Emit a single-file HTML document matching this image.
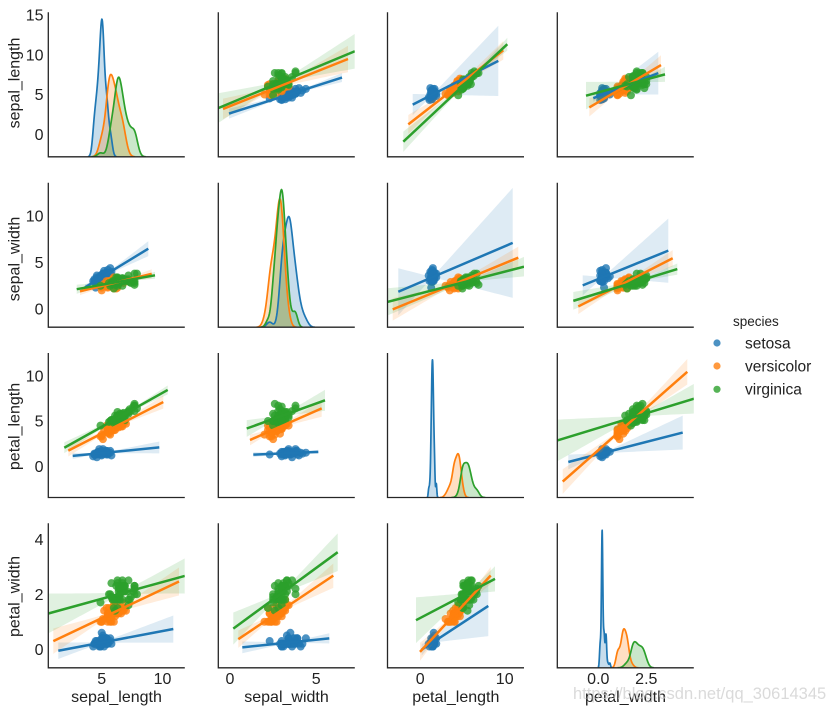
<!DOCTYPE html>
<html><head><meta charset="utf-8"><title>Iris pairplot</title>
<style>
html,body{margin:0;padding:0;background:#fff;overflow:hidden}
svg{display:block}
text{font-family:"Liberation Sans",Arial,sans-serif;fill:#222}
</style></head><body>
<svg id="s" xmlns="http://www.w3.org/2000/svg" width="827" height="712" viewBox="0 0 827 712">
<rect width="827" height="712" fill="#fff"/>
<defs id="defs"></defs>
<g id="g"></g>
<g id="spines" fill="none" stroke="#262626" stroke-width="1.3"></g>
<g font-size="16" text-anchor="end">
<text x="43.5" y="20.6">15</text><text x="43.5" y="60.4">10</text><text x="43.5" y="100.2">5</text><text x="43.5" y="140">0</text>
<text x="43.5" y="221.7">10</text><text x="43.5" y="268.2">5</text><text x="43.5" y="314.7">0</text>
<text x="43.5" y="381.5">10</text><text x="43.5" y="426.7">5</text><text x="43.5" y="472">0</text>
<text x="43.5" y="544.8">4</text><text x="43.5" y="599.9">2</text><text x="43.5" y="655">0</text>
</g>
<g font-size="16" text-anchor="middle">
<text x="101.7" y="683.8">5</text><text x="162.5" y="683.8">10</text>
<text x="230" y="683.8">0</text><text x="316.2" y="683.8">5</text>
<text x="420.2" y="683.8">0</text><text x="504.7" y="683.8">10</text>
<text x="598.3" y="683.8">0.0</text><text x="646.3" y="683.8">2.5</text>
</g>
<g font-size="16" text-anchor="middle">
<text x="116.5" y="702">sepal_length</text>
<text x="286.5" y="702">sepal_width</text>
<text x="455.8" y="702">petal_length</text>
<text x="625.5" y="702">petal_width</text>
<text transform="translate(19.5,83) rotate(-90)">sepal_length</text>
<text transform="translate(19.5,259) rotate(-90)">sepal_width</text>
<text transform="translate(19.5,426.5) rotate(-90)">petal_length</text>
<text transform="translate(19.5,596.5) rotate(-90)">petal_width</text>
</g>
<text x="733" y="326" font-size="13.5">species</text>
<circle cx="717" cy="343" r="3.6" fill="#1f77b4" fill-opacity="0.8"/>
<circle cx="717" cy="366" r="3.6" fill="#ff7f0e" fill-opacity="0.8"/>
<circle cx="717" cy="389.3" r="3.6" fill="#2ca02c" fill-opacity="0.8"/>
<g font-size="15.5">
<text x="745" y="348.3">setosa</text>
<text x="745" y="371.3">versicolor</text>
<text x="745" y="394.3">virginica</text>
</g>
<text x="573" y="699" font-size="16.5" style="fill:rgba(205,205,205,0.75)">https://blog.csdn.net/qq_30614345</text>
</svg>
<script>
(function(){
const P=s=>s.split(',').map(Number);
const DATA=[
[P("5.1,4.9,4.7,4.6,5.0,5.4,4.6,5.0,4.4,4.9,5.4,4.8,4.8,4.3,5.8,5.7,5.4,5.1,5.7,5.1,5.4,5.1,4.6,5.1,4.8,5.0,5.0,5.2,5.2,4.7,4.8,5.4,5.2,5.5,4.9,5.0,5.5,4.9,4.4,5.1,5.0,4.5,4.4,5.0,5.1,4.8,5.1,4.6,5.3,5.0"),
 P("3.5,3.0,3.2,3.1,3.6,3.9,3.4,3.4,2.9,3.1,3.7,3.4,3.0,3.0,4.0,4.4,3.9,3.5,3.8,3.8,3.4,3.7,3.6,3.3,3.4,3.0,3.4,3.5,3.4,3.2,3.1,3.4,4.1,4.2,3.1,3.2,3.5,3.6,3.0,3.4,3.5,2.3,3.2,3.5,3.8,3.0,3.8,3.2,3.7,3.3"),
 P("1.4,1.4,1.3,1.5,1.4,1.7,1.4,1.5,1.4,1.5,1.5,1.6,1.4,1.1,1.2,1.5,1.3,1.4,1.7,1.5,1.7,1.5,1.0,1.7,1.9,1.6,1.6,1.5,1.4,1.6,1.6,1.5,1.5,1.4,1.5,1.2,1.3,1.4,1.3,1.5,1.3,1.3,1.3,1.6,1.9,1.4,1.6,1.4,1.5,1.4"),
 P("0.2,0.2,0.2,0.2,0.2,0.4,0.3,0.2,0.2,0.1,0.2,0.2,0.1,0.1,0.2,0.4,0.4,0.3,0.3,0.3,0.2,0.4,0.2,0.5,0.2,0.2,0.4,0.2,0.2,0.2,0.2,0.4,0.1,0.2,0.2,0.2,0.2,0.1,0.2,0.2,0.3,0.3,0.2,0.6,0.4,0.3,0.2,0.2,0.2,0.2")],
[P("7.0,6.4,6.9,5.5,6.5,5.7,6.3,4.9,6.6,5.2,5.0,5.9,6.0,6.1,5.6,6.7,5.6,5.8,6.2,5.6,5.9,6.1,6.3,6.1,6.4,6.6,6.8,6.7,6.0,5.7,5.5,5.5,5.8,6.0,5.4,6.0,6.7,6.3,5.6,5.5,5.5,6.1,5.8,5.0,5.6,5.7,5.7,6.2,5.1,5.7"),
 P("3.2,3.2,3.1,2.3,2.8,2.8,3.3,2.4,2.9,2.7,2.0,3.0,2.2,2.9,2.9,3.1,3.0,2.7,2.2,2.5,3.2,2.8,2.5,2.8,2.9,3.0,2.8,3.0,2.9,2.6,2.4,2.4,2.7,2.7,3.0,3.4,3.1,2.3,3.0,2.5,2.6,3.0,2.6,2.3,2.7,3.0,2.9,2.9,2.5,2.8"),
 P("4.7,4.5,4.9,4.0,4.6,4.5,4.7,3.3,4.6,3.9,3.5,4.2,4.0,4.7,3.6,4.4,4.5,4.1,4.5,3.9,4.8,4.0,4.9,4.7,4.3,4.4,4.8,5.0,4.5,3.5,3.8,3.7,3.9,5.1,4.5,4.5,4.7,4.4,4.1,4.0,4.4,4.6,4.0,3.3,4.2,4.2,4.2,4.3,3.0,4.1"),
 P("1.4,1.5,1.5,1.3,1.5,1.3,1.6,1.0,1.3,1.4,1.0,1.5,1.0,1.4,1.3,1.4,1.5,1.0,1.5,1.1,1.8,1.3,1.5,1.2,1.3,1.4,1.4,1.7,1.5,1.0,1.1,1.0,1.2,1.6,1.5,1.6,1.5,1.3,1.3,1.3,1.2,1.4,1.2,1.0,1.3,1.2,1.3,1.3,1.1,1.3")],
[P("6.3,5.8,7.1,6.3,6.5,7.6,4.9,7.3,6.7,7.2,6.5,6.4,6.8,5.7,5.8,6.4,6.5,7.7,7.7,6.0,6.9,5.6,7.7,6.3,6.7,7.2,6.2,6.1,6.4,7.2,7.4,7.9,6.4,6.3,6.1,7.7,6.3,6.4,6.0,6.9,6.7,6.9,5.8,6.8,6.7,6.7,6.3,6.5,6.2,5.9"),
 P("3.3,2.7,3.0,2.9,3.0,3.0,2.5,2.9,2.5,3.6,3.2,2.7,3.0,2.5,2.8,3.2,3.0,3.8,2.6,2.2,3.2,2.8,2.8,2.7,3.3,3.2,2.8,3.0,2.8,3.0,2.8,3.8,2.8,2.8,2.6,3.0,3.4,3.1,3.0,3.1,3.1,3.1,2.7,3.2,3.3,3.0,2.5,3.0,3.4,3.0"),
 P("6.0,5.1,5.9,5.6,5.8,6.6,4.5,6.3,5.8,6.1,5.1,5.3,5.5,5.0,5.1,5.3,5.5,6.7,6.9,5.0,5.7,4.9,6.7,4.9,5.7,6.0,4.8,4.9,5.6,5.8,6.1,6.4,5.6,5.1,5.6,6.1,5.6,5.5,4.8,5.4,5.6,5.1,5.1,5.9,5.7,5.2,5.0,5.2,5.4,5.1"),
 P("2.5,1.9,2.1,1.8,2.2,2.1,1.7,1.8,1.8,2.5,2.0,1.9,2.1,2.0,2.4,2.3,1.8,2.2,2.3,1.5,2.3,2.0,2.0,1.8,2.1,1.8,1.8,1.8,2.1,1.6,1.9,2.0,2.2,1.5,1.4,2.3,2.4,1.8,1.8,2.1,2.4,2.3,1.9,2.3,2.5,2.3,1.9,2.0,2.3,1.8")]
];
const COL=['#1f77b4','#ff7f0e','#2ca02c'];
const X=[v=>101.7+12.15*(v-5),v=>230+17.24*v,v=>420.2+8.45*v,v=>598.3+19.2*v];
const Y=[v=>134.3-7.96*v,v=>309-9.3*v,v=>466.3-9.05*v,v=>649.3-27.55*v];
const L=[48.3,218.3,387.5,557.3],W=136.5,T=[12.3,182.7,353,523.3],H=144.5;
const EXT={
'01':[[229,342],[223,348],[218.3,354.8]],
'02':[[412.7,498.3],[408.3,503.3],[403.3,507.3]],
'03':[[593.3,658.3],[589.3,661],[586,665]],
'10':[[85,148.3],[80,151.7],[76.7,155]],
'12':[[398.3,512.7],[392.7,518.3],[387.5,524]],
'13':[[582.7,668.3],[578.3,672.7],[573.3,677.3]],
'20':[[72.7,159.3],[68.3,163.3],[64.3,167.7]],
'21':[[253.3,318.3],[250,321.7],[246.7,325]],
'23':[[568.3,682.7],[562.7,687.3],[557.3,694]],
'30':[[58.3,173.3],[53.3,179],[48.3,184.8]],
'31':[[242.3,329.3],[238.3,333.3],[233.3,337.7]],
'32':[[421.7,488.3],[420,490.7],[416,495]]
};
function reg(xs,ys){
 const n=xs.length;let xm=0,ym=0;
 for(let i=0;i<n;i++){xm+=xs[i];ym+=ys[i];}xm/=n;ym/=n;
 let sxx=0,sxy=0;for(let i=0;i<n;i++){sxx+=(xs[i]-xm)**2;sxy+=(xs[i]-xm)*(ys[i]-ym);}
 const b=sxy/sxx,a=ym-b*xm;let sse=0;
 for(let i=0;i<n;i++)sse+=(ys[i]-a-b*xs[i])**2;
 const s=Math.sqrt(sse/(n-2));
 return {f:x=>a+b*x,se:x=>s*Math.sqrt(1/n+(x-xm)**2/sxx)};
}
function pct(sorted,p){const pos=(sorted.length-1)*p,lo=Math.floor(pos),fr=pos-lo;
 return lo+1<sorted.length?sorted[lo]+(sorted[lo+1]-sorted[lo])*fr:sorted[lo];}
function kde(d){
 const n=d.length;const m=d.reduce((a,b)=>a+b,0)/n;
 const sd=Math.sqrt(d.reduce((a,b)=>a+(b-m)**2,0)/(n-1));
 const so=d.slice().sort((a,b)=>a-b);
 const iqr=(pct(so,0.75)-pct(so,0.25))/1.349;
 const A=Math.min(sd,iqr>0?iqr:sd);const bw=1.059*A*Math.pow(n,-0.2);
 const a=so[0]-3*bw,b=so[n-1]+3*bw;const g=[],y=[];
 const N=100;
 for(let k=0;k<N;k++){const x=a+(b-a)*k/(N-1);let s=0;
  for(let i=0;i<n;i++){const z=(x-d[i])/bw;s+=Math.exp(-0.5*z*z);}
  g.push(x);y.push(s/(n*bw*Math.sqrt(2*Math.PI)));}
 return {g,y};
}
const f=v=>v.toFixed(2);
let defs='',out='',sp='';
for(let r=0;r<4;r++)for(let c=0;c<4;c++){
 const id='cp'+r+c;
 defs+=`<clipPath id="${id}"><rect x="${L[c]}" y="${T[r]}" width="${W}" height="${H}"/></clipPath>`;
 sp+=`<path d="M${L[c]},${T[r]}V${T[r]+H}H${L[c]+W}"/>`;
 let coll='',lines='';
 if(r===c){
  const ks=[0,1,2].map(k=>kde(DATA[k][c]));
  let mx=0;ks.forEach(k=>k.y.forEach(v=>{if(v>mx)mx=v;}));
  const sc=(H/1.05)/mx,base=T[r]+H;
  ks.forEach((k,i)=>{
   let pts=k.g.map((x,j)=>f(X[c](x))+','+f(base-k.y[j]*sc));
   coll+=`<path d="M${f(X[c](k.g[0]))},${base}L${pts.join('L')}L${f(X[c](k.g[k.g.length-1]))},${base}Z" fill="${COL[i]}" fill-opacity="0.25"/>`;
   lines+=`<path d="M${pts.join('L')}" fill="none" stroke="${COL[i]}" stroke-width="1.7" stroke-linejoin="round"/>`;
  });
 } else {
  const e=EXT[''+r+c];
  for(let k=0;k<3;k++){
   const xs=DATA[k][c].map(X[c]),ys=DATA[k][r].map(Y[r]);
   for(let i=0;i<xs.length;i++)coll+=`<circle cx="${f(xs[i])}" cy="${f(ys[i])}" r="4" fill="${COL[k]}" fill-opacity="0.8"/>`;
   const R=reg(xs,ys);const [x0,x1]=e[k];const up=[],lo=[];
   for(let j=0;j<=40;j++){const x=x0+(x1-x0)*j/40;const yh=R.f(x),d=2.01*R.se(x);
    up.push(f(x)+','+f(yh-d));lo.push(f(x)+','+f(yh+d));}
   coll+=`<path d="M${up.join('L')}L${lo.reverse().join('L')}Z" fill="${COL[k]}" fill-opacity="0.15"/>`;
   lines+=`<line x1="${f(x0)}" y1="${f(R.f(x0))}" x2="${f(x1)}" y2="${f(R.f(x1))}" stroke="${COL[k]}" stroke-width="2.5"/>`;
  }
 }
 out+=`<g clip-path="url(#${id})">${coll}${lines}</g>`;
}
document.getElementById('defs').innerHTML=defs;
document.getElementById('g').innerHTML=out;
document.getElementById('spines').innerHTML=sp;
})();
</script>
</body></html>
